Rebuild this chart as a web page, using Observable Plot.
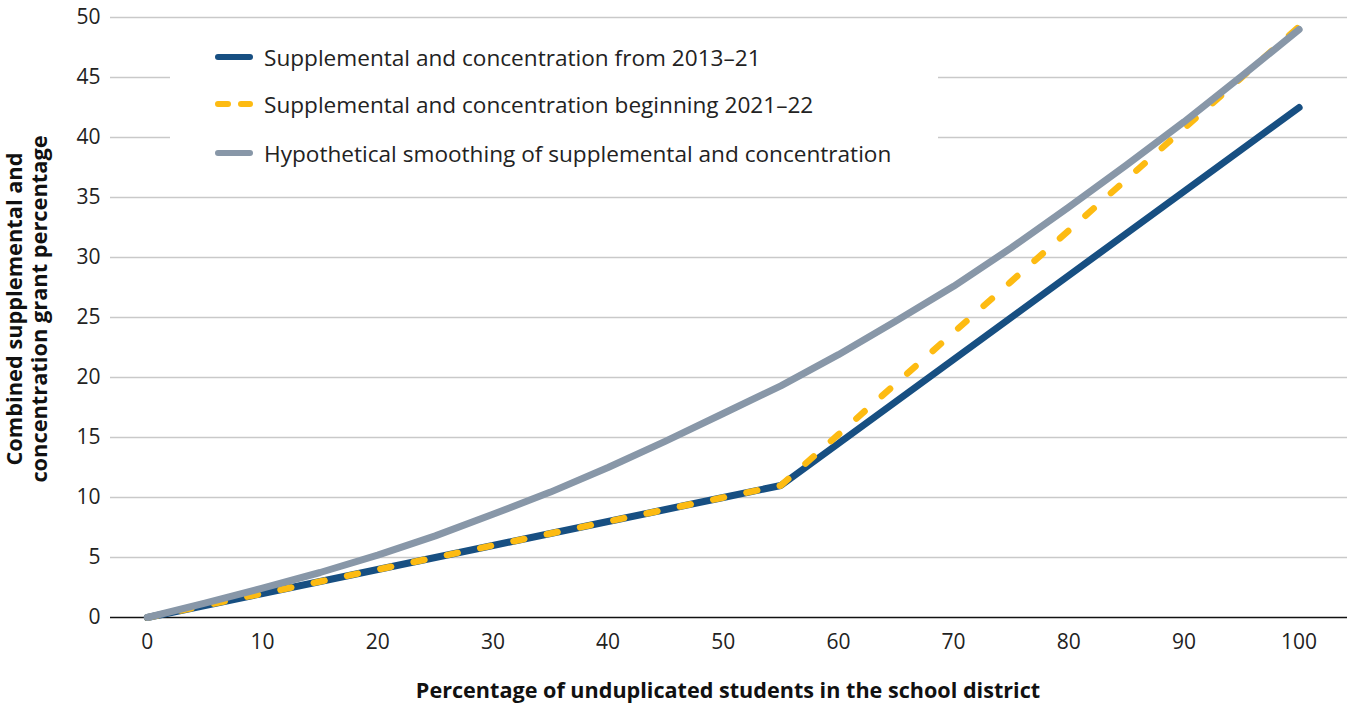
<!DOCTYPE html>
<html>
<head>
<meta charset="utf-8">
<script src="https://cdn.jsdelivr.net/npm/d3@7"></script>
<script src="https://cdn.jsdelivr.net/npm/@observablehq/plot@0.6"></script>
<style>
  html, body { margin: 0; padding: 0; background: #fff; }
  #wrap { position: relative; width: 1347px; height: 704px; font-family: "Open Sans", Lato, sans-serif; color: #222; }
  #chart svg { display: block; }
  #legend { position: absolute; left: 170px; top: 30px; width: 768px; height: 140px; background: #fff; }
  .lrow { position: absolute; left: 0; height: 30px; display: flex; align-items: center; font-size: 22.6px; color: #222; white-space: nowrap; }
  .lrow svg { margin-left: 44px; margin-right: 10px; }
  .ytitle { position: absolute; left: 26px; top: 309px; transform: translate(-50%, -50%) rotate(-90deg); font-weight: 700; font-size: 21.8px; line-height: 25px; text-align: center; white-space: nowrap; color: #111; }
  .xtitle { position: absolute; left: 728px; top: 689px; transform: translate(-50%, -50%); font-weight: 700; font-size: 21.6px; white-space: nowrap; color: #111; }
</style>
</head>
<body>
<div id="wrap">
  <div id="chart"></div>
  <div id="legend"></div>
  <div class="ytitle">Combined supplemental and<br>concentration grant percentage</div>
  <div class="xtitle">Percentage of unduplicated students in the school district</div>
</div>
<script>
// x: percentage of unduplicated students
const xValues = [0, 5, 10, 15, 20, 25, 30, 35, 40, 45, 50, 55, 60, 65, 70, 75, 80, 85, 90, 95, 100];
// Supplemental and concentration from 2013–21
const series2013 = [0, 1, 2, 3, 4, 5, 6, 7, 8, 9, 10, 11, 14.5, 18, 21.5, 25, 28.5, 32, 35.5, 39, 42.5];
// Supplemental and concentration beginning 2021–22
const series2021 = [0, 1, 2, 3, 4, 5, 6, 7, 8, 9, 10, 11, 15.25, 19.5, 23.75, 28, 32.25, 36.5, 40.75, 45, 49.25];
// Hypothetical smoothing
const seriesSmooth = [0, 1.2, 2.45, 3.75, 5.2, 6.8, 8.6, 10.45, 12.5, 14.7, 17.0, 19.3, 21.9, 24.7, 27.6, 30.8, 34.2, 37.7, 41.3, 45.1, 49.0];

const seriesNames = [
  "Supplemental and concentration from 2013–21",
  "Supplemental and concentration beginning 2021–22",
  "Hypothetical smoothing of supplemental and concentration"
];
const seriesColors = ["#174f82", "#fdbb12", "#8897a8"];
const xTicks = [0, 10, 20, 30, 40, 50, 60, 70, 80, 90, 100];
const yTicks = [0, 5, 10, 15, 20, 25, 30, 35, 40, 45, 50];

const toRows = (vals) => xValues.map((x, i) => ({x, y: vals[i]}));
const rows2013 = toRows(series2013);
const rows2021 = toRows(series2021);
const rowsSmooth = toRows(seriesSmooth);

const chart = Plot.plot({
  width: 1347,
  height: 704,
  marginLeft: 110,
  marginRight: 0,
  marginTop: 17,
  marginBottom: 87,
  style: {fontFamily: "'Open Sans', Lato, sans-serif", color: "#222", background: "#fff"},
  x: {domain: [-3.2, 104.2]},
  y: {domain: [0, 50]},
  marks: [
    Plot.ruleY(yTicks.filter(d => d > 0), {stroke: "#c9c9c9", strokeWidth: 1.3}),
    Plot.axisY({ticks: yTicks, tickSize: 0, tickPadding: 10, fontSize: 21, label: null}),
    Plot.axisX({ticks: xTicks, tickSize: 0, tickPadding: 17, fontSize: 21, label: null}),
    Plot.ruleY([0], {stroke: "#111", strokeWidth: 1.5}),
    Plot.line(rows2013, {x: "x", y: "y", stroke: seriesColors[0], strokeWidth: 7, strokeLinecap: "round", strokeLinejoin: "round"}),
    Plot.line(rows2021, {x: "x", y: "y", stroke: seriesColors[1], strokeWidth: 6.5, strokeDasharray: "11,23", strokeLinecap: "round", strokeLinejoin: "round"}),
    Plot.line(rowsSmooth, {x: "x", y: "y", stroke: seriesColors[2], strokeWidth: 7, strokeLinecap: "round", strokeLinejoin: "round"})
  ]
});
document.getElementById("chart").appendChild(chart);

// Legend
const legend = document.getElementById("legend");
const rowTops = [12, 59, 108];
seriesNames.forEach((name, i) => {
  const row = document.createElement("div");
  row.className = "lrow";
  row.style.top = rowTops[i] + "px";
  const dash = i === 1 ? ' stroke-dasharray="10,13"' : '';
  row.innerHTML = `<svg width="40" height="10"><line x1="4" x2="36" y1="5" y2="5" stroke="${seriesColors[i]}" stroke-width="6" stroke-linecap="round"${dash}/></svg><span>${name}</span>`;
  legend.appendChild(row);
});
</script>
</body>
</html>
